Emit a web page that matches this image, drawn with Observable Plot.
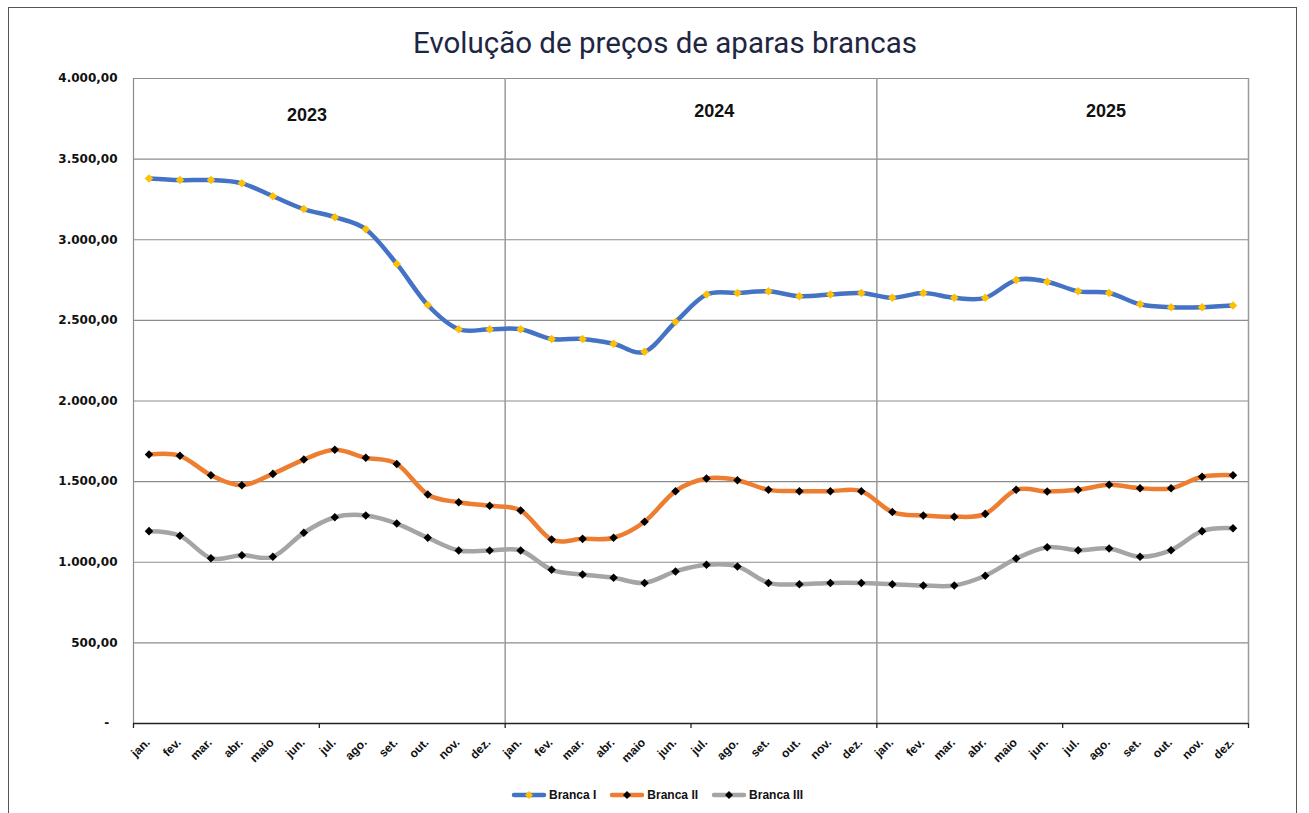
<!DOCTYPE html>
<html>
<head>
<meta charset="utf-8">
<script src="https://cdn.jsdelivr.net/npm/d3@7"></script>
<script src="https://cdn.jsdelivr.net/npm/@observablehq/plot@0.6"></script>
<style>
  html, body { margin: 0; padding: 0; background: #fff; }
  #wrap { position: relative; width: 1309px; height: 813px; overflow: hidden; background: #fff; }
  #frame { position: absolute; left: 8px; top: 7px; width: 1289px; height: 820px; border: 1px solid #555; box-sizing: border-box; }
  #title { position: absolute; left: 0; width: 1330px; top: 26px; text-align: center; font-family: Roboto, sans-serif; font-size: 29.5px; color: #1e2642; white-space: nowrap; }
  #chart { position: absolute; left: 0; top: 0; }
  #legend { position: absolute; top: 788px; left: 511px; display: flex; align-items: center; font-family: "Liberation Sans", Arial, sans-serif; font-weight: bold; font-size: 12px; color: #111; }
  #legend .item { display: flex; align-items: center; margin-right: 13px; }
  #legend svg { margin-right: 2px; }
</style>
</head>
<body>
<div id="wrap">
  <div id="frame"></div>
  <div id="chart"></div>
  <div id="title">Evolução de preços de aparas brancas</div>
  <div id="legend"></div>
</div>
<script>
// ---- data ----
const months = ["jan.", "fev.", "mar.", "abr.", "maio", "jun.", "jul.", "ago.", "set.", "out.", "nov.", "dez."];
const years = ["2023", "2024", "2025"];
// where each year caption sits, in chart data units (month index, price)
const yearLabelMonth = [5.1, 18.25, 30.9];
const yearLabelValue = [3770, 3800, 3800];
const seriesNames = ["Branca I", "Branca II", "Branca III"];

const brancaI = [
  3380, 3370, 3370, 3350, 3270, 3190, 3140, 3065, 2850, 2595, 2445, 2445,
  2445, 2385, 2385, 2355, 2305, 2490, 2660, 2670, 2680, 2650, 2660, 2670,
  2640, 2670, 2640, 2640, 2750, 2740, 2680, 2670, 2600, 2582, 2582, 2592
];
const brancaII = [
  1668, 1660, 1540, 1478, 1548, 1637, 1697, 1648, 1610, 1420, 1372, 1350,
  1321, 1141, 1145, 1152, 1251, 1441, 1519, 1509, 1449, 1441, 1441, 1441,
  1311, 1290, 1282, 1300, 1449, 1439, 1449, 1480, 1459, 1459, 1530, 1540
];
const brancaIII = [
  1193, 1164, 1025, 1044, 1034, 1183, 1279, 1290, 1240, 1152, 1073, 1073,
  1073, 953, 924, 904, 872, 943, 984, 974, 872, 864, 872, 872,
  864, 856, 856, 916, 1023, 1093, 1075, 1085, 1034, 1075, 1193, 1211
];
const yTicks = [0, 500, 1000, 1500, 2000, 2500, 3000, 3500, 4000];

// ---- build tables ----
const nMonths = years.length * months.length;
const idx = d3.range(nMonths);
const monthRows = idx.map(i => ({i, label: months[i % 12]}));
const yearRows = years.map((y, k) => ({y, x: yearLabelMonth[k], v: yearLabelValue[k]}));
const yearBounds = years.map((y, k) => k * 12 + 11.5);
const tickBounds = d3.range(0, years.length * 2 + 1).map(k => k * 6 - 0.5);

const colors = {"Branca I": "#4472C4", "Branca II": "#ED7D31", "Branca III": "#A5A5A5"};
const markerFill = {"Branca I": "#FFC000", "Branca II": "#000000", "Branca III": "#000000"};
const all = [brancaI, brancaII, brancaIII];
const rows = [];
seriesNames.forEach((s, k) => all[k].forEach((v, i) => rows.push({series: s, i, v})));

const locale = d3.formatLocale({decimal: ",", thousands: ".", grouping: [3], currency: ["", ""]});
const fmt = locale.format(",.2f");

const plot = Plot.plot({
  width: 1309,
  height: 813,
  marginLeft: 133,
  marginRight: 61,
  marginTop: 78,
  marginBottom: 90,
  style: {background: "transparent", overflow: "visible"},
  x: {type: "linear", domain: [-0.5, nMonths - 0.5], axis: null},
  y: {domain: [0, 4000], axis: null},
  marks: [
    Plot.ruleY(yTicks.filter(d => d > 0), {stroke: "#8c8c8c", strokeWidth: 1.2}),
    Plot.ruleX(yearBounds, {stroke: "#9a9a9a", strokeWidth: 1.5}),
    Plot.ruleX([-0.5], {stroke: "#8c8c8c", strokeWidth: 1.2}),
    Plot.axisY({
      ticks: yTicks, tickSize: 0, tickPadding: 16,
      tickFormat: d => d === 0 ? "-\u00a0\u00a0" : fmt(d),
      fontSize: 12, fontWeight: "bold", fontFamily: "Verdana, 'DejaVu Sans', sans-serif",
      color: "#111", label: null
    }),
    Plot.ruleY([0], {stroke: "#222", strokeWidth: 1.3}),
    Plot.axisX({ticks: tickBounds, tickSize: 5, tickFormat: () => "", stroke: "#222", strokeWidth: 1.3, label: null}),
    Plot.text(monthRows, {
      x: "i", y: () => 0, text: "label", rotate: -45, textAnchor: "end", lineAnchor: "middle",
      dy: 17, dx: -1, fontSize: 12, fontWeight: "bold", fontFamily: "'Liberation Sans', Arial, sans-serif", fill: "#111"
    }),
    Plot.text(yearRows, {
      x: "x", y: "v", text: "y", fontSize: 18, fontWeight: "bold",
      fontFamily: "'Liberation Sans', Arial, sans-serif", fill: "#111"
    }),
    Plot.line(rows, {
      x: "i", y: "v", z: "series", stroke: d => colors[d.series],
      strokeWidth: 4.5, curve: "cardinal", tension: 0, strokeLinecap: "round", strokeLinejoin: "round"
    }),
    Plot.dot(rows, {
      x: "i", y: "v", symbol: "square", r: 3.4, rotate: 45,
      fill: d => markerFill[d.series], stroke: "none"
    })
  ]
});
document.getElementById("chart").appendChild(plot);

// legend
const legend = document.getElementById("legend");
seriesNames.forEach(s => {
  const item = document.createElement("div");
  item.className = "item";
  const ns = "http://www.w3.org/2000/svg";
  const sw = document.createElementNS(ns, "svg");
  sw.setAttribute("width", 36); sw.setAttribute("height", 12);
  const ln = document.createElementNS(ns, "line");
  ln.setAttribute("x1", 3); ln.setAttribute("x2", 33); ln.setAttribute("y1", 6); ln.setAttribute("y2", 6);
  ln.setAttribute("stroke", colors[s]); ln.setAttribute("stroke-width", 4.5); ln.setAttribute("stroke-linecap", "round");
  const dm = document.createElementNS(ns, "path");
  dm.setAttribute("d", "M18,2 L22,6 L18,10 L14,6 Z");
  dm.setAttribute("fill", markerFill[s]);
  sw.appendChild(ln); sw.appendChild(dm);
  const t = document.createElement("span");
  t.textContent = s;
  item.appendChild(sw); item.appendChild(t);
  legend.appendChild(item);
});
</script>
</body>
</html>
